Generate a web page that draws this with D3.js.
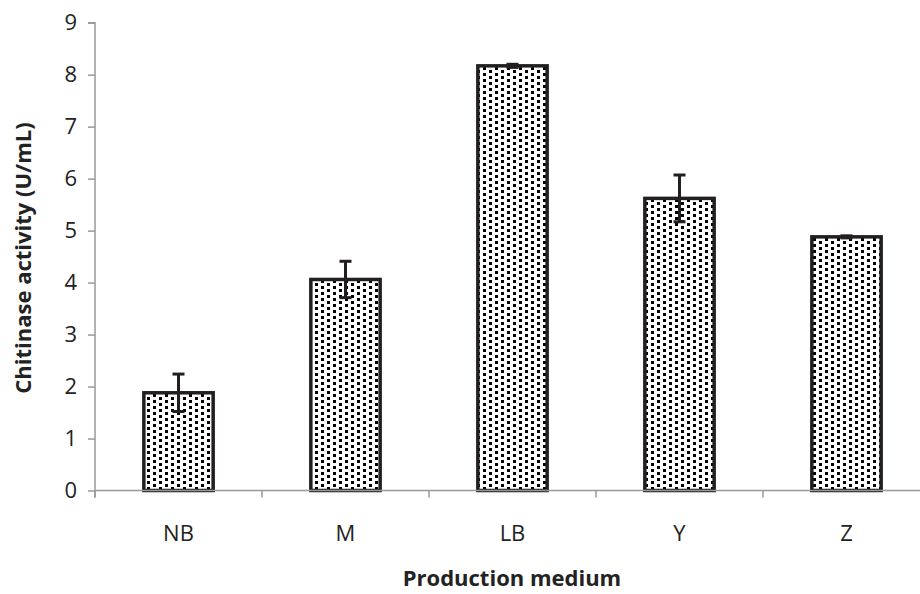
<!DOCTYPE html>
<html><head><meta charset="utf-8">
<script src="https://cdn.jsdelivr.net/npm/d3@7"></script>
<style>body{margin:0;background:#fff;} svg{display:block;}</style>
</head><body>
<svg id="chart" width="920" height="594"></svg>
<script>
const categories = ["NB", "M", "LB", "Y", "Z"];
const values = [1.88, 4.06, 8.17, 5.62, 4.88];
const errors = [0.36, 0.35, 0.03, 0.45, 0.02];
const yTicks = [0, 1, 2, 3, 4, 5, 6, 7, 8, 9];

const svg = d3.select("#chart");
const font = "'Open Sans', 'Noto Sans', sans-serif";
const x0 = 95, x1 = 930, yTop = 22.7, yBot = 490.5;

const x = d3.scaleBand().domain(categories).range([x0, x1]).paddingInner(0.585).paddingOuter(0.2925);
const y = d3.scaleLinear().domain([0, 9]).range([yBot, yTop]);

const defs = svg.append("defs");
const pat = defs.append("pattern").attr("id", "dots").attr("patternUnits", "userSpaceOnUse")
  .attr("width", 12).attr("height", 6).attr("x", 146).attr("y", 0);
pat.append("rect").attr("width", 12).attr("height", 6).attr("fill", "#fff");
pat.append("rect").attr("x", 1).attr("y", 1).attr("width", 3).attr("height", 3).attr("fill", "#000");
pat.append("rect").attr("x", 7).attr("y", 4).attr("width", 3).attr("height", 3).attr("fill", "#000");
pat.append("rect").attr("x", 7).attr("y", -2).attr("width", 3).attr("height", 3).attr("fill", "#000");

// bars
svg.append("g").selectAll("rect").data(categories).join("rect")
  .attr("x", d => x(d))
  .attr("y", (d, i) => y(values[i]))
  .attr("width", x.bandwidth())
  .attr("height", (d, i) => y(0) - y(values[i]))
  .attr("fill", "url(#dots)")
  .attr("stroke", "#231f20")
  .attr("stroke-width", 3.5);

// y axis
const yAxis = svg.append("g").attr("transform", `translate(${x0},0)`)
  .call(d3.axisLeft(y).tickValues(yTicks).tickSize(7).tickPadding(11).tickFormat(d3.format("d")));
yAxis.select(".domain").attr("stroke", "#999").attr("stroke-width", 1.5).attr("d", `M-7,${yTop}H0V${yBot + 7}`);
yAxis.selectAll(".tick line").attr("stroke", "#999").attr("stroke-width", 1.5);
yAxis.selectAll(".tick text").attr("font-family", font).attr("font-size", 22).attr("fill", "#222");

// x axis
const xAxisG = svg.append("g").attr("transform", `translate(0,${yBot})`);
xAxisG.append("line").attr("x1", x0).attr("x2", 920).attr("y1", 0).attr("y2", 0)
  .attr("stroke", "#999").attr("stroke-width", 1.5);
const step = x.step();
const boundaries = d3.range(0, categories.length + 1).map(i => x0 + i * step);
xAxisG.selectAll("line.tk").data(boundaries).join("line").attr("class", "tk")
  .attr("x1", d => d).attr("x2", d => d).attr("y1", 0).attr("y2", 7)
  .attr("stroke", "#999").attr("stroke-width", 1.5);
xAxisG.selectAll("text").data(categories).join("text")
  .attr("x", d => x(d) + x.bandwidth() / 2).attr("y", 50)
  .attr("text-anchor", "middle").attr("font-family", font).attr("font-size", 22).attr("fill", "#222")
  .text(d => d);

// error bars
const eg = svg.append("g").attr("stroke", "#231f20").attr("stroke-width", 3);
categories.forEach((c, i) => {
  const cx = x(c) + x.bandwidth() / 2;
  const hi = y(values[i] + errors[i]), lo = y(values[i] - errors[i]);
  eg.append("line").attr("x1", cx).attr("x2", cx).attr("y1", hi).attr("y2", lo);
  eg.append("line").attr("x1", cx - 6).attr("x2", cx + 6).attr("y1", hi).attr("y2", hi);
  eg.append("line").attr("x1", cx - 6).attr("x2", cx + 6).attr("y1", lo).attr("y2", lo);
});

// titles
svg.append("text").attr("x", 512).attr("y", 586).attr("text-anchor", "middle")
  .attr("font-family", font).attr("font-size", 22).attr("font-weight", "bold").attr("fill", "#222")
  .text("Production medium");
svg.append("text").attr("transform", `translate(31,258) rotate(-90)`)
  .attr("text-anchor", "middle").attr("font-family", font).attr("font-size", 22).attr("font-weight", "bold").attr("fill", "#222")
  .text("Chitinase activity (U/mL)");
</script>
</body></html>
